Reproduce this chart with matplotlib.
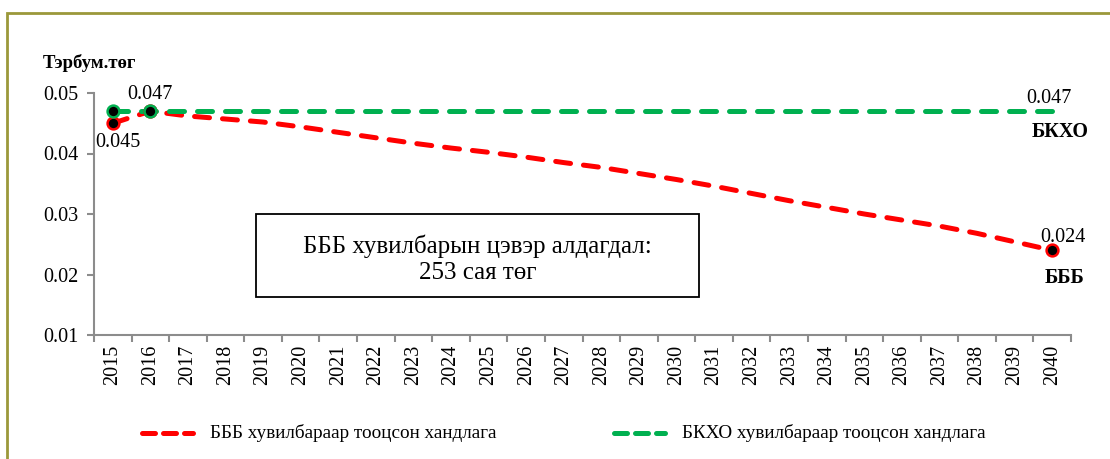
import matplotlib.pyplot as plt
from matplotlib.patches import Rectangle
from matplotlib.lines import Line2D

plt.rcParams['font.family'] = ['Liberation Serif', 'DejaVu Serif']

# Data
years = list(range(2015, 2041))
bbb_values = [0.045, 0.047, 0.0462, 0.0457, 0.0452, 0.0444, 0.0435, 0.0426, 0.0417,
              0.0409, 0.0402, 0.0394, 0.0385, 0.0377, 0.0367, 0.0357, 0.0346, 0.0334,
              0.0322, 0.0311, 0.0300, 0.0290, 0.0280, 0.0268, 0.0254, 0.024]
bkho_values = [0.047] * len(years)
bbb_label = 'БББ хувилбараар тооцсон хандлага'
bkho_label = 'БКХО хувилбараар тооцсон хандлага'
red = '#FF0000'
green = '#00B050'
dash = (3.0, 2.6)

fig = plt.figure(figsize=(11.1, 4.59), dpi=100)
W, H = 1110, 459
ax = fig.add_axes([94 / W, 1 - 335 / H, (1071 - 94) / W, (335 - 93) / H])

# Olive frame around the chart
fig.patches.append(Rectangle((7 / W, -0.1), 1.2, 1.1 - 13 / H, transform=fig.transFigure,
                             fill=False, edgecolor='#9B983A', linewidth=2.0))

ax.plot(years, bkho_values, color=green, lw=3.6, dashes=dash,
        dash_capstyle='round', zorder=3)
ax.plot(years, bbb_values, color=red, lw=3.6, dashes=dash,
        dash_capstyle='round', zorder=2)

# Markers at the start points and the last БББ point
mk = dict(marker='o', markersize=8.5, markerfacecolor='black', markeredgewidth=1.8, ls='none', zorder=5)
ax.plot(years[:2], bbb_values[:2], markeredgecolor=red, **mk)
ax.plot(years[:2], bkho_values[:2], markeredgecolor=green, **mk)
ax.plot(years[-1], bbb_values[-1], markeredgecolor=red, **mk)

ax.set_xlim(2014.5, 2040.5)
ax.set_ylim(0.01, 0.05)
ax.set_yticks([0.01, 0.02, 0.03, 0.04, 0.05])
ax.set_yticklabels(['0.01', '0.02', '0.03', '0.04', '0.05'], fontsize=14.5)
ax.set_xticks(years)
ax.set_xticklabels([str(y) for y in years], rotation=90, fontsize=14.5)
ax.set_xticks([y - 0.5 for y in years] + [2040.5], minor=True)
ax.tick_params(axis='x', which='major', length=0, pad=7)
ax.tick_params(axis='x', which='minor', length=5, color='#8C8C8C', width=1.5)
ax.tick_params(axis='y', length=5, color='#8C8C8C', width=1.5, pad=6)
for s in ['top', 'right']:
    ax.spines[s].set_visible(False)
for s in ['left', 'bottom']:
    ax.spines[s].set_color('#8C8C8C')
    ax.spines[s].set_linewidth(1.5)

fig.text(43 / W, 1 - 63 / H, 'Тэрбум.төг', fontsize=13.5, fontweight='bold', va='center')

# Value labels
ax.annotate(f'{bkho_values[1]:.3f}', (years[1], bkho_values[1]), xytext=(0, 5),
            textcoords='offset points', ha='center', va='bottom', fontsize=14.5)
ax.annotate(f'{bbb_values[0]:.3f}', (years[0], bbb_values[0]), xytext=(4, -7),
            textcoords='offset points', ha='center', va='top', fontsize=14.5)
ax.annotate(f'{bkho_values[-1]:.3f}', (years[-1], bkho_values[-1]), xytext=(-2, 2),
            textcoords='offset points', ha='center', va='bottom', fontsize=14.5)
ax.annotate('БКХО', (years[-1], bkho_values[-1]), xytext=(6, -8),
            textcoords='offset points', ha='center', va='top', fontsize=14.5, fontweight='bold')
ax.annotate(f'{bbb_values[-1]:.3f}', (years[-1], bbb_values[-1]), xytext=(8, 2.5),
            textcoords='offset points', ha='center', va='bottom', fontsize=14.5)
ax.annotate('БББ', (years[-1], bbb_values[-1]), xytext=(9, -13),
            textcoords='offset points', ha='center', va='top', fontsize=14.5, fontweight='bold')

# Net loss box
bx0, bx1 = (256 - 94) / 977, (699 - 94) / 977
by0, by1 = (335 - 297) / 242, (335 - 214) / 242
ax.add_patch(Rectangle((bx0, by0), bx1 - bx0, by1 - by0, transform=ax.transAxes,
                       fill=False, edgecolor='black', linewidth=1.3, zorder=4))
ax.text((bx0 + bx1) / 2, (by0 + by1) / 2 - 0.015, 'БББ хувилбарын цэвэр алдагдал:\n253 сая төг',
        transform=ax.transAxes, ha='center', va='center', fontsize=18, linespacing=1.2)

# Legend below the axes
for x0, color, label in [(140, red, bbb_label), (612, green, bkho_label)]:
    fig.add_artist(Line2D([(x0 + 2) / W, (x0 + 53) / W], [1 - 433 / H] * 2, color=color, lw=3.6,
                          dashes=(2.6, 1.6), dash_capstyle='round', transform=fig.transFigure))
    fig.text((x0 + 70) / W, 1 - 433 / H, label, fontsize=13.8, va='center', ha='left')

fig.savefig('out.png', dpi=100)
